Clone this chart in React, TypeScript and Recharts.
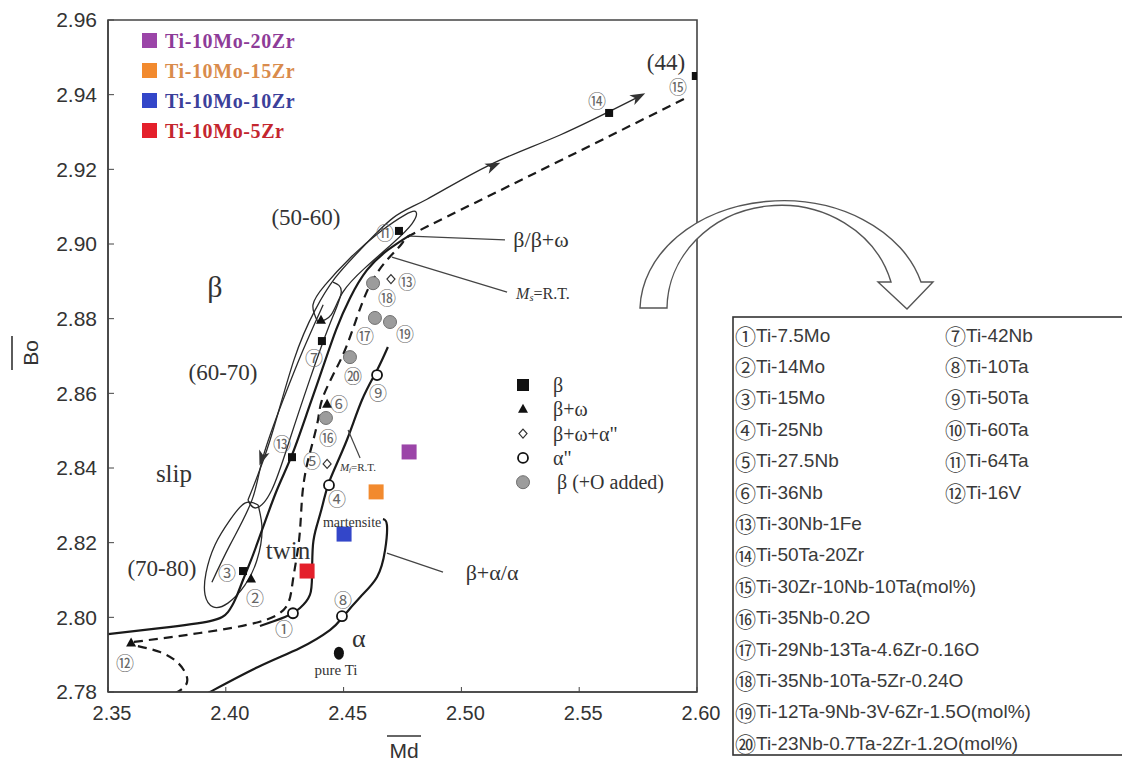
import { ComposedChart, Line, Scatter, XAxis, YAxis, ReferenceArea } from 'recharts';

type Pt = { md: number; bo: number; text?: string };
const toPts = (rows: number[][]): Pt[] => rows.map(([md, bo]) => ({ md, bo }));

// axis ticks
const mdTicks = [2.35, 2.4, 2.45, 2.5, 2.55, 2.6];
const boTicks = [2.78, 2.8, 2.82, 2.84, 2.86, 2.88, 2.9, 2.92, 2.94, 2.96];

// phase symbols of the reference alloys
const betaPts = toPts([[2.4735, 2.9035], [2.5627, 2.9351], [2.5995, 2.945], [2.4408, 2.874], [2.4281, 2.8429], [2.4073, 2.8124]]);
const betaOmegaPts = toPts([[2.4107, 2.8103], [2.443, 2.8571], [2.3598, 2.7931], [2.4404, 2.8796]]);
const betaOmegaAlphaPts = toPts([[2.4701, 2.8906], [2.443, 2.8411]]);
const alpha2Pts = toPts([[2.4285, 2.8011], [2.4438, 2.8354], [2.4642, 2.8649], [2.4493, 2.8003]]);
const betaOPts = toPts([[2.4625, 2.8895], [2.4633, 2.8802], [2.4697, 2.8791], [2.4527, 2.8697], [2.4425, 2.8534]]);
const pureTiPts = toPts([[2.448, 2.7904]]);

// Ti-10Mo-xZr alloys
const alloyNames = ['Ti-10Mo-20Zr', 'Ti-10Mo-15Zr', 'Ti-10Mo-10Zr', 'Ti-10Mo-5Zr'];
const alloyMd = [2.4778, 2.4638, 2.4502, 2.4345];
const alloyBo = [2.8443, 2.8336, 2.8223, 2.8124];
const alloyFill = ['#9b45a8', '#f28a2e', '#3346c9', '#e4202b'];
const alloyText = ['#8e3c98', '#d98b4c', '#3c409a', '#c4262e'];

// boundary curves
const upperLine = toPts([[2.4094, 2.8314], [2.4188, 2.8475], [2.4289, 2.8689], [2.4379, 2.8823], [2.4464, 2.8909], [2.457, 2.8984], [2.471, 2.907], [2.4854, 2.912], [2.5121, 2.9212], [2.5419, 2.9292], [2.5758, 2.9396]]);
const innerLine = toPts([[2.3941, 2.8094], [2.4018, 2.8194], [2.4111, 2.8314], [2.4158, 2.8429], [2.4243, 2.8582], [2.4328, 2.8716], [2.4413, 2.8837]]);
const loop6070 = toPts([[2.4455, 2.8898], [2.449, 2.8871], [2.444, 2.8783], [2.4356, 2.8636], [2.4271, 2.8475], [2.4195, 2.8341], [2.4128, 2.8293], [2.4094, 2.8314]]);
const loop5060 = toPts([[2.4391, 2.8791], [2.437, 2.8837], [2.4421, 2.889], [2.4527, 2.8962], [2.4654, 2.9032], [2.4761, 2.9078], [2.4807, 2.9086], [2.479, 2.9054], [2.4705, 2.9], [2.4591, 2.8936], [2.4497, 2.8871], [2.4447, 2.881], [2.4391, 2.8791]]);
const loop7080 = toPts([[2.4137, 2.8301], [2.4154, 2.8234], [2.4132, 2.8153], [2.4081, 2.8086], [2.4009, 2.8038], [2.3946, 2.8028], [2.3912, 2.806], [2.3916, 2.8119], [2.3954, 2.8194], [2.4018, 2.8261], [2.4081, 2.8306], [2.4137, 2.8301]]);
const betaBoundary = toPts([[2.35, 2.7955], [2.3721, 2.7971], [2.3933, 2.799], [2.4009, 2.8014], [2.4043, 2.8052], [2.4073, 2.81], [2.4107, 2.8153], [2.4154, 2.8234], [2.4217, 2.8341], [2.4281, 2.8435], [2.4349, 2.8555], [2.4408, 2.8662], [2.4468, 2.877], [2.4527, 2.8855], [2.4599, 2.893], [2.4688, 2.8984], [2.4782, 2.9024]]);
const msLine = toPts([[2.361, 2.7934], [2.389, 2.7958], [2.4137, 2.7987], [2.4256, 2.8028], [2.4285, 2.81], [2.4311, 2.8207], [2.4323, 2.8314], [2.434, 2.8395], [2.4366, 2.8462], [2.4391, 2.8528], [2.4408, 2.8582], [2.4455, 2.8649], [2.4506, 2.8716], [2.4557, 2.8804], [2.4612, 2.889], [2.4684, 2.8957], [2.4752, 2.9005], [2.4824, 2.9037], [2.5278, 2.9179], [2.5962, 2.9394]]);
const msLoop = toPts([[2.3627, 2.7923], [2.3721, 2.7907], [2.3797, 2.7878], [2.3835, 2.784], [2.3823, 2.7813], [2.3772, 2.7792]]);
const mfLine = toPts([[2.4145, 2.7977], [2.4251, 2.8001], [2.4315, 2.8025], [2.4357, 2.806], [2.4366, 2.8113], [2.437, 2.8194], [2.4387, 2.8247], [2.4413, 2.8306], [2.4442, 2.8368], [2.4514, 2.8475], [2.4578, 2.8582], [2.4642, 2.8662], [2.4688, 2.8724]]);
const alphaBoundary = toPts([[2.389, 2.7786], [2.3933, 2.78], [2.4137, 2.7867], [2.4315, 2.7918], [2.4442, 2.7966], [2.4497, 2.8001], [2.457, 2.8054], [2.4642, 2.8108], [2.4676, 2.818], [2.4684, 2.8247], [2.4667, 2.8263]]);
const leaders = [
  toPts([[2.4782, 2.9021], [2.5185, 2.9011]]),
  toPts([[2.4705, 2.8965], [2.5194, 2.8871]]),
  toPts([[2.4519, 2.8502], [2.457, 2.8427]]),
  toPts([[2.4684, 2.8172], [2.4922, 2.8121]]),
];
const arrowPts = toPts([[2.5134, 2.9209], [2.575, 2.9394], [2.4154, 2.8427]]);
const arrowAngles = [-23, -27, 109];

// annotations
const circledLabels: Pt[] = [
  { text: '①', md: 2.4247, bo: 2.7971 }, { text: '②', md: 2.4124, bo: 2.8054 },
  { text: '③', md: 2.4005, bo: 2.8121 }, { text: '④', md: 2.4472, bo: 2.832 },
  { text: '⑤', md: 2.4366, bo: 2.8421 }, { text: '⑥', md: 2.448, bo: 2.8574 },
  { text: '⑦', md: 2.4374, bo: 2.8697 }, { text: '⑧', md: 2.4497, bo: 2.8049 },
  { text: '⑨', md: 2.4646, bo: 2.8603 }, { text: '⑪', md: 2.4676, bo: 2.9032 },
  { text: '⑫', md: 2.3572, bo: 2.788 }, { text: '⑬', md: 2.4239, bo: 2.8467 },
  { text: '⑬', md: 2.4769, bo: 2.8901 }, { text: '⑭', md: 2.5576, bo: 2.9386 },
  { text: '⑮', md: 2.5919, bo: 2.9423 }, { text: '⑯', md: 2.4434, bo: 2.8483 },
  { text: '⑰', md: 2.4591, bo: 2.8756 }, { text: '⑱', md: 2.4684, bo: 2.8858 },
  { text: '⑲', md: 2.4761, bo: 2.8762 }, { text: '⑳', md: 2.454, bo: 2.8649 },
];
const notes: Pt[] = [
  { text: 'β', md: 2.3954, bo: 2.8885 }, { text: '(50-60)', md: 2.434, bo: 2.9072 },
  { text: '(60-70)', md: 2.3988, bo: 2.8657 }, { text: 'slip', md: 2.378, bo: 2.8386 },
  { text: '(70-80)', md: 2.3729, bo: 2.8132 }, { text: '(44)', md: 2.5868, bo: 2.9485 },
  { text: 'twin', md: 2.4264, bo: 2.818 }, { text: 'α', md: 2.4565, bo: 2.7944 },
  { text: 'pure Ti', md: 2.4468, bo: 2.7859 }, { text: 'martensite', md: 2.4536, bo: 2.8253 },
  { text: 'β/β+ω', md: 2.5338, bo: 2.9011 }, { text: 'M_s=R.T.', md: 2.5346, bo: 2.8869 },
  { text: 'M_f=R.T.', md: 2.4561, bo: 2.8403 }, { text: 'β+α/α', md: 2.513, bo: 2.8119 },
];
const noteSize: Record<string, number> = {
  'β': 30, '(50-60)': 23, '(60-70)': 23, 'slip': 25, '(70-80)': 23, '(44)': 23, 'twin': 25,
  'α': 26, 'pure Ti': 15, 'martensite': 14, 'β/β+ω': 22, 'M_s=R.T.': 16, 'M_f=R.T.': 11, 'β+α/α': 22,
};

const symbolLegend = ['β', 'β+ω', 'β+ω+α"', 'α"', 'β (+O added)'];

const listLeft = ['①Ti-7.5Mo', '②Ti-14Mo', '③Ti-15Mo', '④Ti-25Nb', '⑤Ti-27.5Nb', '⑥Ti-36Nb', '⑬Ti-30Nb-1Fe', '⑭Ti-50Ta-20Zr', '⑮Ti-30Zr-10Nb-10Ta(mol%)', '⑯Ti-35Nb-0.2O', '⑰Ti-29Nb-13Ta-4.6Zr-0.16O', '⑱Ti-35Nb-10Ta-5Zr-0.24O', '⑲Ti-12Ta-9Nb-3V-6Zr-1.5O(mol%)', '⑳Ti-23Nb-0.7Ta-2Zr-1.2O(mol%)'];
const listRight = ['⑦Ti-42Nb', '⑧Ti-10Ta', '⑨Ti-50Ta', '⑩Ti-60Ta', '⑪Ti-64Ta', '⑫Ti-16V'];

const SERIF = "'Liberation Serif', 'Times New Roman', serif";
const SANS = "'Liberation Sans', Arial, sans-serif";
const CJK = "'Noto Sans CJK JP', 'DejaVu Sans', sans-serif";

const square = (size: number, fill: string) => (p: any) => (
  <rect x={p.cx - size / 2} y={p.cy - size / 2} width={size} height={size} fill={fill} />
);
const triangle = (p: any) => (
  <path d={`M${p.cx},${p.cy - 5.5} L${p.cx + 5},${p.cy + 3.5} L${p.cx - 5},${p.cy + 3.5} Z`} fill="#111" />
);
const diamond = (p: any) => (
  <path d={`M${p.cx},${p.cy - 4.5} L${p.cx + 4},${p.cy} L${p.cx},${p.cy + 4.5} L${p.cx - 4},${p.cy} Z`} fill="#fff" stroke="#333" strokeWidth={1.2} />
);
const openCircle = (p: any) => <circle cx={p.cx} cy={p.cy} r={5} fill="#fff" stroke="#111" strokeWidth={1.8} />;
const grayCircle = (p: any) => <circle cx={p.cx} cy={p.cy} r={6.5} fill="#9c9c9c" stroke="#707070" strokeWidth={1} />;
const blackEllipse = (p: any) => <ellipse cx={p.cx} cy={p.cy} rx={5} ry={6.5} fill="#111" />;
const arrowHead = (p: any) => {
  const i = arrowPts.findIndex((a) => a.md === p.payload.md && a.bo === p.payload.bo);
  return (
    <path d="M8,0 L-7,-5.5 L-3,0 L-7,5.5 Z" fill="#333"
      transform={`translate(${p.cx},${p.cy}) rotate(${arrowAngles[i] ?? 0})`} />
  );
};
const circledText = (p: any) => (
  <text x={p.cx} y={p.cy} textAnchor="middle" dominantBaseline="central" fontSize={18} fill="#666" fontFamily={CJK}>
    {p.payload.text}
  </text>
);
const noteText = (p: any) => {
  const t: string = p.payload.text;
  const size = noteSize[t] ?? 18;
  if (t.startsWith('M_')) {
    return (
      <text x={p.cx} y={p.cy} textAnchor="middle" dominantBaseline="central" fontSize={size} fill="#333" fontFamily={SERIF}>
        <tspan fontStyle="italic">M</tspan>
        <tspan fontStyle="italic" fontSize={size * 0.65} dy={size * 0.25}>{t[2]}</tspan>
        <tspan dy={-size * 0.25}>{t.slice(3)}</tspan>
      </text>
    );
  }
  return (
    <text x={p.cx} y={p.cy} textAnchor="middle" dominantBaseline="central" fontSize={size} fill="#333" fontFamily={SERIF}>
      {t}
    </text>
  );
};

const thick = { stroke: '#1a1a1a', strokeWidth: 2.2 };
const thin = { stroke: '#2a2a2a', strokeWidth: 1.3 };

const Overlay = () => (
  <svg width={1122} height={762} style={{ position: 'absolute', left: 0, top: 0, pointerEvents: 'none' }}>
    {/* axis titles */}
    <g transform="rotate(-90 30 353)">
      <text x={30} y={353} textAnchor="middle" dominantBaseline="central" fontSize={21} fill="#333" fontFamily={SANS}>Bo</text>
      <line x1={13} x2={47} y1={335} y2={335} stroke="#333" strokeWidth={1.6} />
    </g>
    <text x={404} y={750} textAnchor="middle" dominantBaseline="central" fontSize={21} fill="#333" fontFamily={SANS}>Md</text>
    <line x1={387} x2={421} y1={736} y2={736} stroke="#333" strokeWidth={1.6} />

    {/* alloy legend */}
    {alloyNames.map((n, i) => (
      <g key={n}>
        <rect x={142} y={33 + i * 30} width={15} height={15} fill={alloyFill[i]} />
        <text x={165} y={41 + i * 30} dominantBaseline="central" fontSize={20} fontWeight="bold" letterSpacing={0.6} fill={alloyText[i]} fontFamily={SERIF}>{n}</text>
      </g>
    ))}

    {/* symbol legend */}
    {symbolLegend.map((s, i) => {
      const cy = 385 + i * 24.3;
      const cx = 523;
      const p = { cx, cy };
      const mark = [square(12, '#111')(p), triangle(p), diamond(p), openCircle(p), grayCircle(p)][i];
      return (
        <g key={s}>
          {mark}
          <text x={i === 4 ? 557 : 553} y={cy} dominantBaseline="central" fontSize={20} fill="#333" fontFamily={SERIF}>{s}</text>
        </g>
      );
    })}

    {/* curved arrow */}
    <path d="M640,308 A143,110 0 0 1 921,282 L933,282 L907,309 L878,282 L891,282 A114,104 0 0 0 667,308 Z"
      fill="#fff" stroke="#555" strokeWidth={1.4} />

    {/* composition list */}
    <rect x={733} y={317} width={400} height={438} fill="#fff" stroke="#333" strokeWidth={1.6} />
    {listLeft.map((s, i) => (
      <text key={s} x={735} y={335 + i * 31.4} dominantBaseline="central" fontSize={19} fill="#3a3a3a" fontFamily={SANS}>
        <tspan fontFamily={CJK} fontSize={21}>{s[0]}</tspan>{s.slice(1)}
      </text>
    ))}
    {listRight.map((s, i) => (
      <text key={s} x={945} y={335 + i * 31.4} dominantBaseline="central" fontSize={19} fill="#3a3a3a" fontFamily={SANS}>
        <tspan fontFamily={CJK} fontSize={21}>{s[0]}</tspan>{s.slice(1)}
      </text>
    ))}
  </svg>
);

export default function App() {
  return (
    <div style={{ position: 'relative', width: 1122, height: 762, background: '#fff', overflow: 'hidden' }}>
      <style>{'body{margin:0}'}</style>
      <ComposedChart width={1122} height={762} margin={{ top: 20, right: 425, bottom: 0, left: 0 }}>
        <XAxis type="number" dataKey="md" domain={[2.35, 2.6]} ticks={mdTicks} allowDataOverflow height={70}
          tickFormatter={(v: number) => v.toFixed(2)} tickSize={-5} tickMargin={19}
          tick={{ fontSize: 20, fill: '#333', fontFamily: SANS, dx: 4 }}
          axisLine={{ stroke: '#444', strokeWidth: 1.6 }} tickLine={{ stroke: '#444' }} />
        <YAxis type="number" dataKey="bo" domain={[2.78, 2.96]} ticks={boTicks} allowDataOverflow width={108}
          tickFormatter={(v: number) => v.toFixed(2)} tickSize={-6} tickMargin={17}
          tick={{ fontSize: 21, fill: '#333', fontFamily: SANS }}
          axisLine={{ stroke: '#444', strokeWidth: 1.6 }} tickLine={{ stroke: '#444' }} />
        <ReferenceArea x1={2.35} x2={2.6} y1={2.78} y2={2.96} fill="none" fillOpacity={0} stroke="#444" strokeWidth={1.6} />

        <Line data={loop7080} dataKey="bo" type="natural" {...thin} dot={false} activeDot={false} isAnimationActive={false} />
        <Line data={loop6070} dataKey="bo" type="natural" {...thin} dot={false} activeDot={false} isAnimationActive={false} />
        <Line data={loop5060} dataKey="bo" type="natural" {...thin} dot={false} activeDot={false} isAnimationActive={false} />
        <Line data={upperLine} dataKey="bo" type="natural" {...thin} dot={false} activeDot={false} isAnimationActive={false} />
        <Line data={innerLine} dataKey="bo" type="natural" {...thin} dot={false} activeDot={false} isAnimationActive={false} />
        <Line data={betaBoundary} dataKey="bo" type="natural" {...thick} dot={false} activeDot={false} isAnimationActive={false} />
        <Line data={mfLine} dataKey="bo" type="natural" {...thick} dot={false} activeDot={false} isAnimationActive={false} />
        <Line data={alphaBoundary} dataKey="bo" type="natural" {...thick} dot={false} activeDot={false} isAnimationActive={false} />
        <Line data={msLine} dataKey="bo" type="natural" {...thick} strokeDasharray="9 6" dot={false} activeDot={false} isAnimationActive={false} />
        <Line data={msLoop} dataKey="bo" type="natural" {...thick} strokeDasharray="9 6" dot={false} activeDot={false} isAnimationActive={false} />
        {leaders.map((l, i) => (
          <Line key={i} data={l} dataKey="bo" type="linear" stroke="#444" strokeWidth={1.2} dot={false} activeDot={false} isAnimationActive={false} />
        ))}

        <Scatter data={arrowPts} shape={arrowHead} isAnimationActive={false} />
        <Scatter data={betaPts} shape={square(8, '#111')} isAnimationActive={false} />
        <Scatter data={betaOmegaPts} shape={triangle} isAnimationActive={false} />
        <Scatter data={betaOmegaAlphaPts} shape={diamond} isAnimationActive={false} />
        <Scatter data={alpha2Pts} shape={openCircle} isAnimationActive={false} />
        <Scatter data={betaOPts} shape={grayCircle} isAnimationActive={false} />
        <Scatter data={pureTiPts} shape={blackEllipse} isAnimationActive={false} />
        {alloyNames.map((n, i) => (
          <Scatter key={n} name={n} data={[{ md: alloyMd[i], bo: alloyBo[i] }]} shape={square(15, alloyFill[i])} isAnimationActive={false} />
        ))}
        <Scatter data={circledLabels} shape={circledText} isAnimationActive={false} />
        <Scatter data={notes} shape={noteText} isAnimationActive={false} />
      </ComposedChart>
      <Overlay />
    </div>
  );
}
